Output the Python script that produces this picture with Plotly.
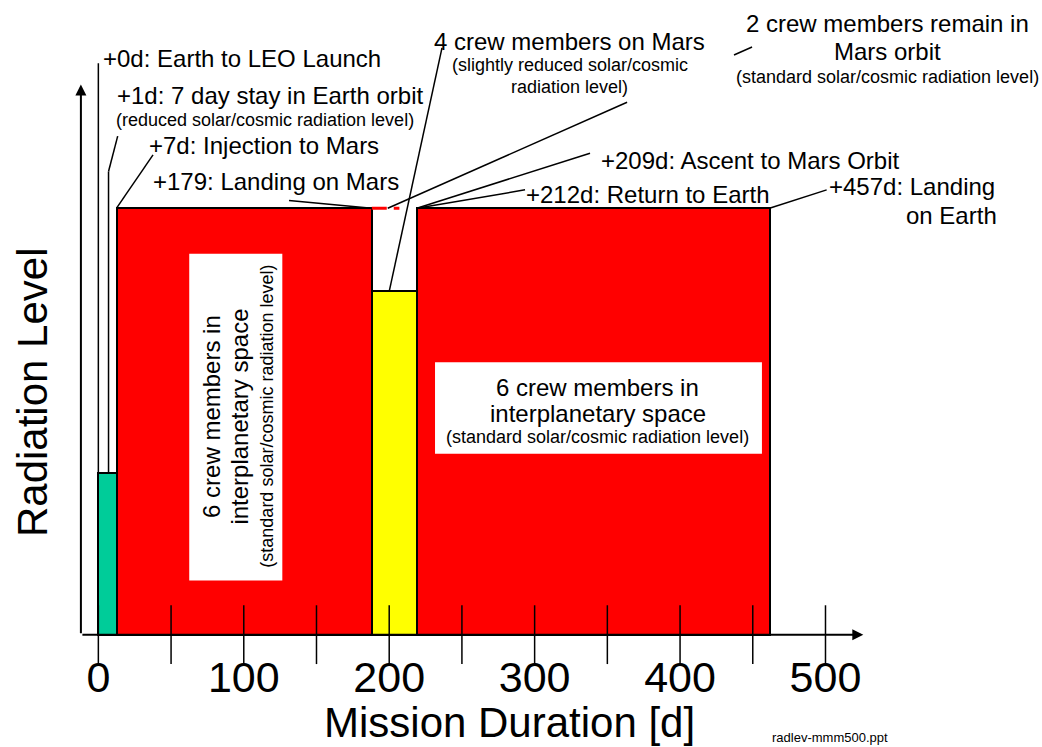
import plotly.graph_objects as go

# ---- mission phases: day span and relative radiation level ----
phase_names = ["Earth orbit", "Transfer to Mars", "Mars surface stay", "Return to Earth"]
phase_start = [0, 12.5, 188, 219]
phase_end = [12.5, 188, 219, 461.5]
radiation_level = [38, 100, 80.5, 100]

# crew left behind in Mars orbit (standard level)
orbit_start = 188
orbit_end = 207
orbit_level = 100

# axis ticks
tick_days = [0, 50, 100, 150, 200, 250, 300, 350, 400, 450, 500]
label_days = [0, 100, 200, 300, 400, 500]
label_text = ["0", "100", "200", "300", "400", "500"]

# ---- styling ----
phase_colors = ["#00CC99", "#FF0000", "#FFFF00", "#FF0000"]
FONT = "Arial, Liberation Sans, Helvetica, sans-serif"
BIG = 24
SMALL = 18
TITLE = 42

# the plot area spans the whole canvas so that captions can sit anywhere
X_RANGE = [-67.63, 648.88]
Y_RANGE = [-26.34, 148.82]

fig = go.Figure()

centers = [(s + e) / 2 for s, e in zip(phase_start, phase_end)]
widths = [e - s for s, e in zip(phase_start, phase_end)]
fig.add_trace(go.Bar(
    x=centers, y=radiation_level, width=widths, name="phase",
    marker=dict(color=phase_colors, line=dict(color="black", width=2)),
    hoverinfo="skip",
))
fig.add_trace(go.Scatter(
    x=[orbit_start, orbit_end], y=[orbit_level, orbit_level], mode="lines",
    line=dict(color="#FF0000", width=3, dash="15px,7px"), hoverinfo="skip",
))
# tick marks crossing the time axis
fig.add_trace(go.Scatter(
    x=tick_days, y=[0] * len(tick_days), mode="markers", cliponaxis=False,
    marker=dict(symbol="line-ns-open", size=42, color="black",
                line=dict(color="black", width=1.5)),
    hoverinfo="skip",
))
# tick labels
fig.add_trace(go.Scatter(
    x=label_days, y=[-10.9] * len(label_days), mode="text", text=label_text,
    textposition="middle center", cliponaxis=False,
    textfont=dict(family=FONT, size=43, color="black"), hoverinfo="skip",
))

# axis lines with arrow heads
axis_x0 = -12
fig.add_annotation(x=526, y=0, ax=axis_x0, ay=0, xref="x", yref="y", axref="x", ayref="y",
                   text="", showarrow=True, arrowhead=2, arrowsize=1.1, arrowwidth=2,
                   arrowcolor="black")
fig.add_annotation(x=axis_x0, y=129.0, ax=axis_x0, ay=0, xref="x", yref="y", axref="x", ayref="y",
                   text="", showarrow=True, arrowhead=2, arrowsize=1.1, arrowwidth=2,
                   arrowcolor="black")


def line(x0, y0, x1, y1, width=1.5):
    fig.add_shape(type="line", x0=x0, y0=y0, x1=x1, y1=y1, xref="x", yref="y",
                  layer="above", line=dict(color="black", width=width))


def note(text, x, y, size=BIG, anchor="left", angle=0):
    fig.add_annotation(x=x, y=y, xref="x", yref="y", text=text, showarrow=False,
                       xanchor=anchor, yanchor="middle", textangle=angle, borderpad=0,
                       font=dict(family=FONT, size=size, color="black"))


g_start, g_end = phase_start[0], phase_end[0]
r1_start, r1_end = phase_start[1], phase_end[1]
y_start, y_end = phase_start[2], phase_end[2]
r2_start, r2_end = phase_start[3], phase_end[3]
g_lvl, r1_lvl, y_lvl, r2_lvl = radiation_level

# leader lines from the event labels to the phase boundaries
line(g_start, 134, g_start, g_lvl)                      # +0d
line(13.3, 116.9, 7, 108.6)                             # +1d
line(7, 108.6, 7, g_lvl)
line(37.6, 112.5, r1_start, r1_lvl)                     # +7d
line(131.1, 101.8, r1_end, r1_lvl)                      # +179d
line(236.3, 137.6, (y_start + y_end) / 2 - 3.5, y_lvl)  # crew on Mars
# crew in Mars orbit: the leader passes behind the "4 crew" caption
p, q = (449.5, 137.8), (199, orbit_level)
def at(t):
    return p[0] + (q[0] - p[0]) * t, p[1] + (q[1] - p[1]) * t
a0, a1 = at(0.0), at(0.0495)
b0, b1 = at(0.343), at(1.0)
line(a0[0], a0[1], a1[0], a1[1])
line(b0[0], b0[1], b1[0], b1[1])
line(338.1, 112.9, r2_start, r2_lvl)                    # +209d
line(293.4, 104.3, r2_start, r2_lvl)                    # +212d
line(500.8, 104.3, r2_end, r2_lvl)                      # +457d

# white caption boxes inside the transfer phases
fig.add_shape(type="rect", x0=62.5, x1=126.5, y0=12.7, y1=89.3, xref="x", yref="y",
              layer="above", fillcolor="white", line=dict(width=0))
fig.add_shape(type="rect", x0=231.5, x1=456.3, y0=42.4, y1=63.9, xref="x", yref="y",
              layer="above", fillcolor="white", line=dict(width=0))

# event labels
note("+0d: Earth to LEO Launch", 2.3, 135.0)
note("+1d: 7 day stay in Earth orbit", 12.1, 126.5)
note("(reduced solar/cosmic radiation level)", 11.5, 120.8, SMALL)
note("+7d: Injection to Mars", 34.3, 114.8)
note("+179: Landing on Mars", 36.7, 106.2)
note("4 crew members on Mars", 324.3, 139.0, anchor="center")
note("(slightly reduced solar/cosmic", 324.3, 133.6, SMALL, anchor="center")
note("radiation level)", 324.3, 128.4, SMALL, anchor="center")
note("2 crew members remain in", 542.6, 143.4, anchor="center")
note("Mars orbit", 542.3, 136.7, anchor="center")
note("(standard solar/cosmic radiation level)", 542.3, 130.7, SMALL, anchor="center")
note("+209d: Ascent to Mars Orbit", 345.0, 111.3)
note("+212d: Return to Earth", 293.4, 103.1)
note("+457d: Landing", 501.9, 105.2)
note("on Earth", 618.8, 98.4, anchor="right")

# phase captions
note("6 crew members in", 343.4, 58.0, anchor="center")
note("interplanetary space", 343.4, 51.9, anchor="center")
note("(standard solar/cosmic radiation level)", 343.2, 46.3, SMALL, anchor="center")
note("6 crew members in", 77.9, 51.2, anchor="center", angle=-90)
note("interplanetary space", 96.9, 51.2, anchor="center", angle=-90)
note("(standard solar/cosmic radiation level)", 116.2, 51.2, SMALL, anchor="center", angle=-90)

# axis titles and file tag
note("Radiation Level", -45.6, 56.9, TITLE, anchor="center", angle=-90)
note("Mission Duration [d]", 282.4, -20.7, TITLE, anchor="center")
note("radlev-mmm500.ppt", 503.1, -24.2, 13, anchor="center")

fig.update_layout(
    width=1042, height=747, autosize=False,
    margin=dict(l=0, r=0, t=0, b=0),
    paper_bgcolor="white", plot_bgcolor="white",
    showlegend=False, bargap=0,
    font=dict(family=FONT, color="black"),
    xaxis=dict(range=X_RANGE, visible=False),
    yaxis=dict(range=Y_RANGE, visible=False),
)

fig.write_html("out.html")
